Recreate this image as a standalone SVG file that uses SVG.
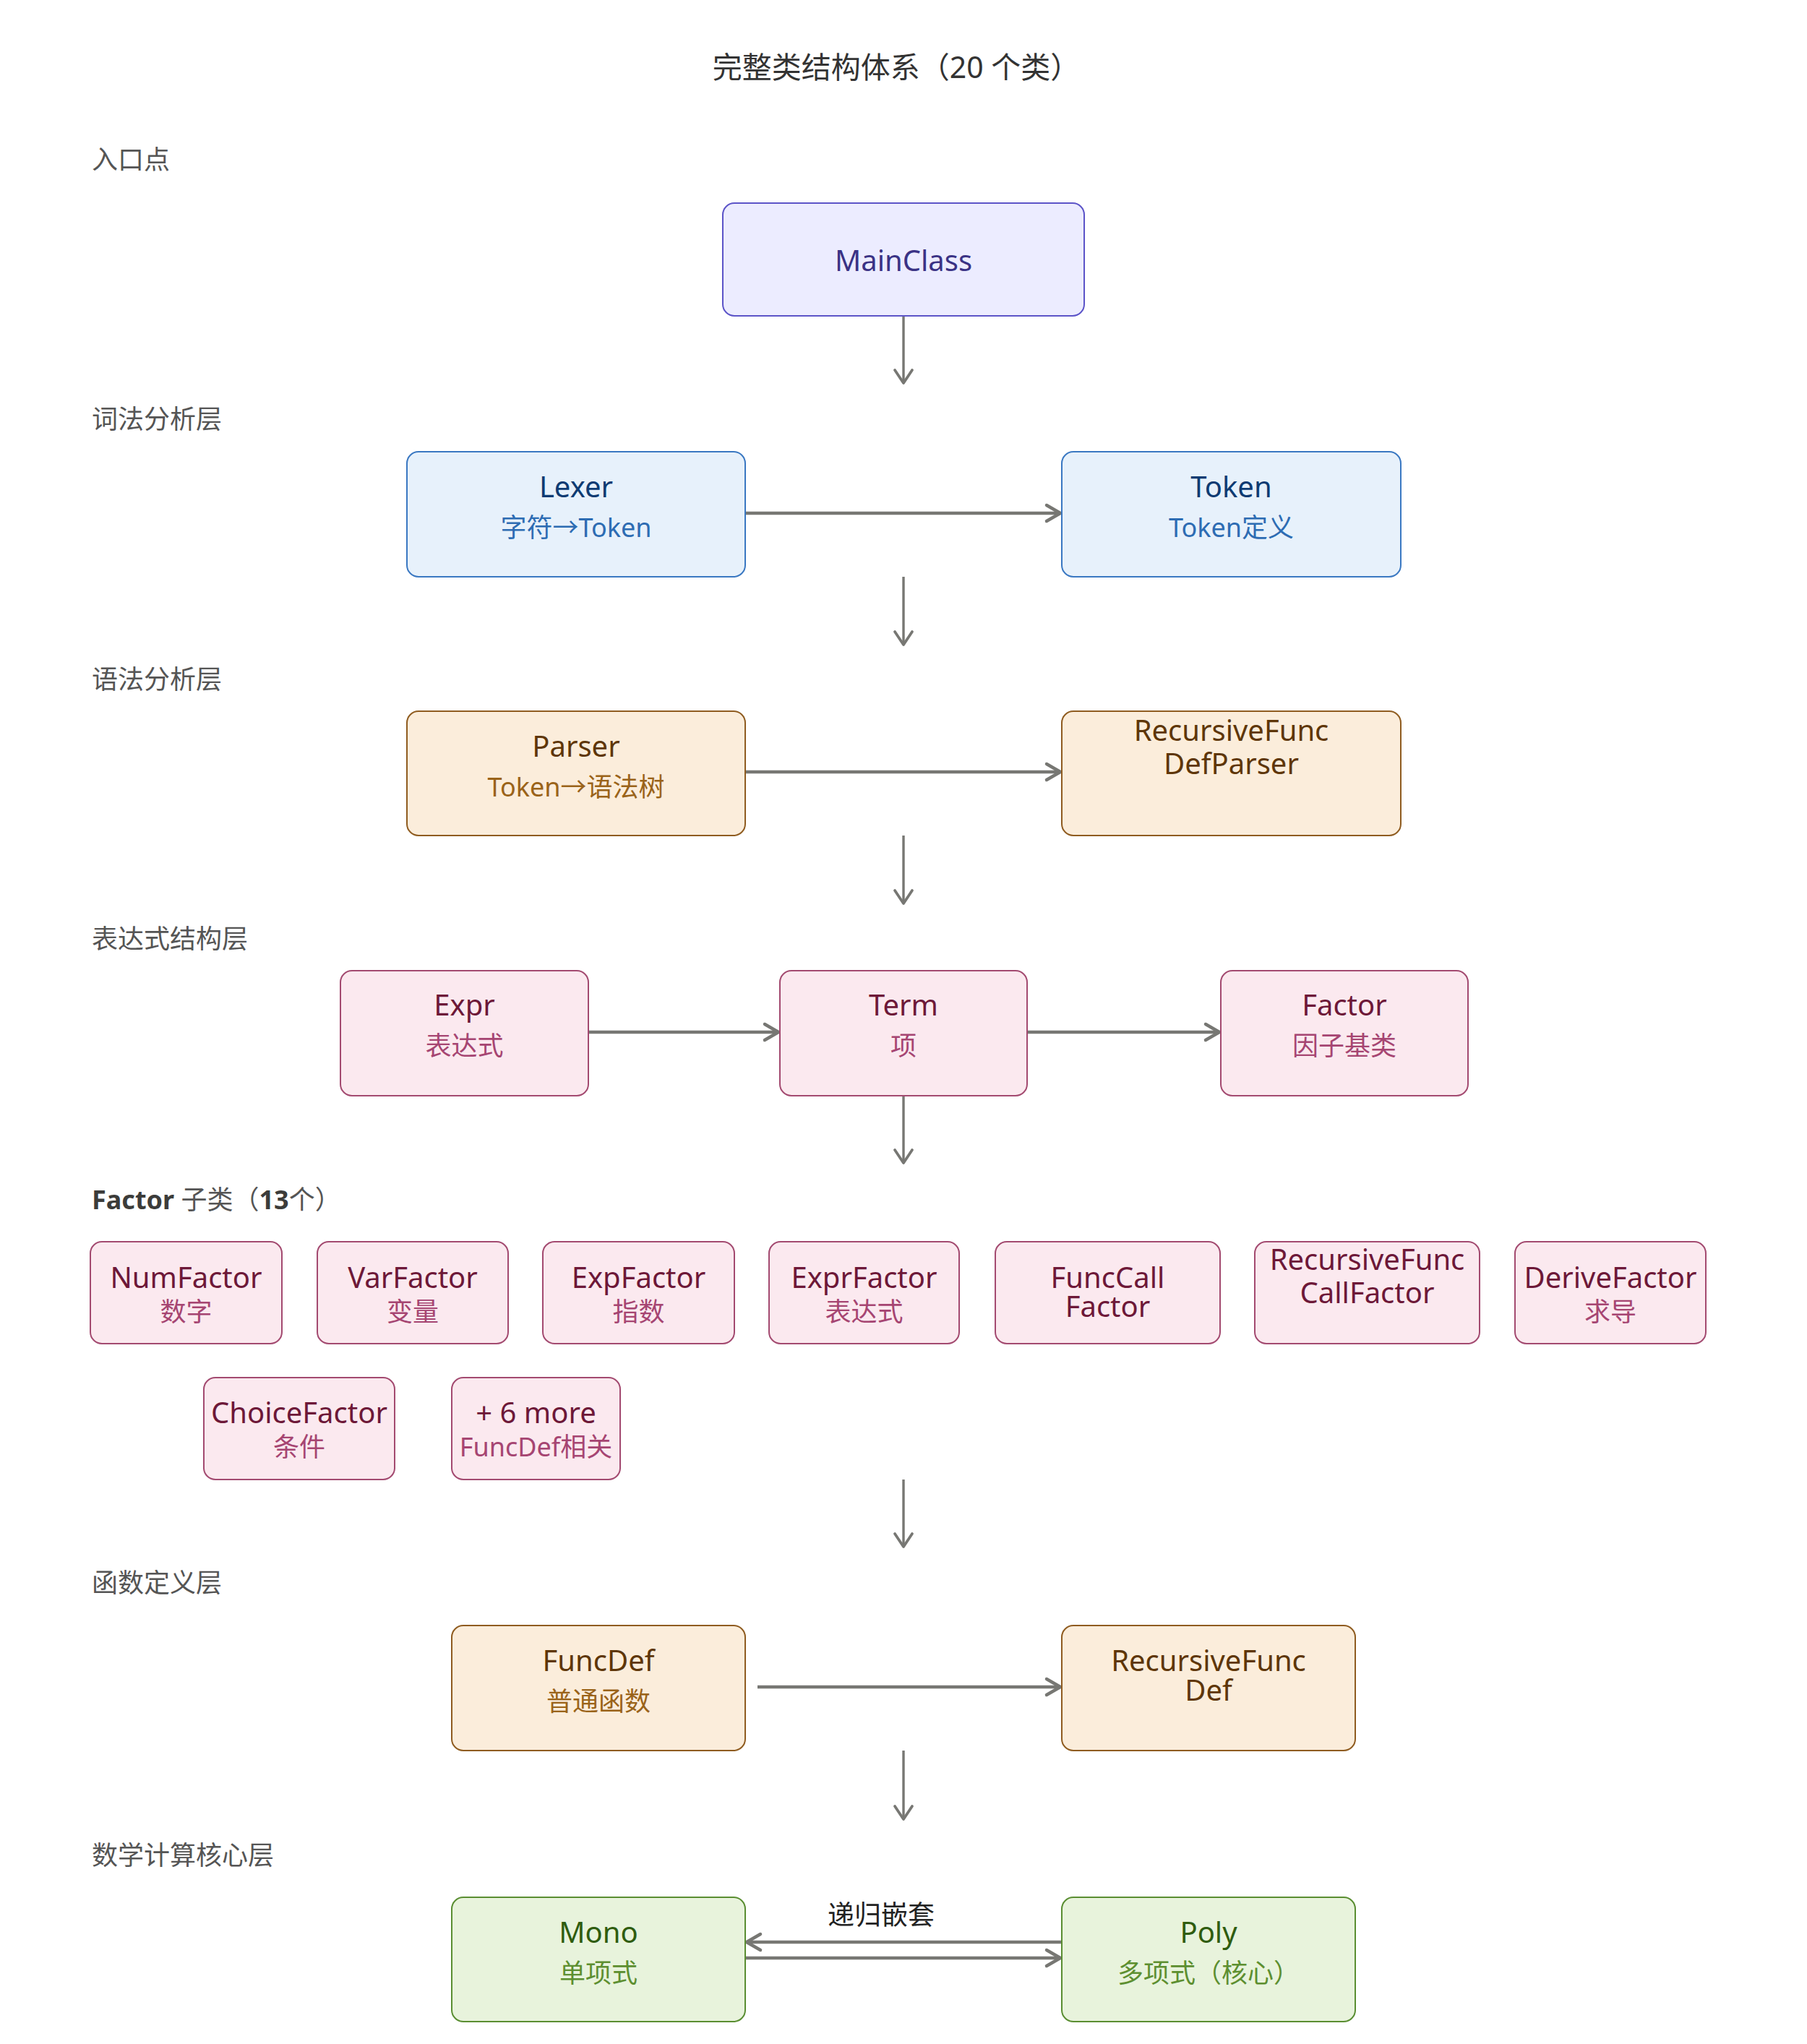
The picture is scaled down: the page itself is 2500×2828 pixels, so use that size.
<svg xmlns="http://www.w3.org/2000/svg" width="2500" height="2828" viewBox="0 0 2500 2828">
<defs>
<style>
text{font-family:"Noto Sans","Noto Sans CJK SC",sans-serif;}
.title{font-size:41px;fill:#333;}
.sec{font-size:36px;fill:#555;}
.t{font-size:40px;text-anchor:middle;}
.s{font-size:36px;text-anchor:middle;}
rect{stroke-width:2;}
.purple rect{fill:#ececff;stroke:#5c54c8;}
.purple .t{fill:#3a3285;}
.blue rect{fill:#e7f1fb;stroke:#3a78c2;}
.blue .t{fill:#0e3b72;}
.blue .s{fill:#2d6cb3;}
.orange rect{fill:#fbeddb;stroke:#8f5c20;}
.orange .t{fill:#5e3608;}
.orange .s{fill:#9a6319;}
.pink rect{fill:#fbe9ef;stroke:#a34a70;}
.pink .t{fill:#6d1838;}
.pink .s{fill:#a64572;}
.green rect{fill:#e8f3dc;stroke:#5a8e32;}
.green .t{fill:#2f5c0f;}
.green .s{fill:#5d8f30;}
.h{stroke:#777773;stroke-width:4.5;fill:none;}
.v{stroke:#777773;stroke-width:3.4;fill:none;}
.elabel{font-size:37px;fill:#222;text-anchor:middle;}
</style>
<marker id="ah" viewBox="-24 -16 28 32" markerWidth="28" markerHeight="32" refX="0" refY="0" orient="auto" markerUnits="userSpaceOnUse">
<path d="M-19,-11 L0,0 L-19,11" fill="none" stroke="#777773" stroke-width="4.5" stroke-linecap="round" stroke-linejoin="round"/>
</marker>
<marker id="av" viewBox="-24 -16 28 32" markerWidth="28" markerHeight="32" refX="0" refY="0" orient="auto" markerUnits="userSpaceOnUse">
<path d="M-18,-12 L0,0 L-18,12" fill="none" stroke="#777773" stroke-width="3.8" stroke-linecap="round" stroke-linejoin="round"/>
</marker>
</defs>
<rect x="0" y="0" width="2500" height="2828" fill="#ffffff" stroke="none"/>

<text class="title" x="1240" y="108" text-anchor="middle">完整类结构体系（20 个类）</text>

<g id="section-labels">
<text class="sec" x="127" y="234">入口点</text>
<text class="sec" x="127" y="593">词法分析层</text>
<text class="sec" x="127" y="953">语法分析层</text>
<text class="sec" x="127" y="1312">表达式结构层</text>
<text class="sec" x="127" y="1673"><tspan font-weight="bold" fill="#3c3c3a">Factor</tspan> 子类（<tspan font-weight="bold" fill="#3c3c3a">13</tspan>个）</text>
<text class="sec" x="127" y="2203">函数定义层</text>
<text class="sec" x="127" y="2580">数学计算核心层</text>
</g>

<g id="connectors">
<line class="v" x1="1250" y1="437" x2="1250" y2="530" marker-end="url(#av)"/>
<line class="v" x1="1250" y1="798" x2="1250" y2="892" marker-end="url(#av)"/>
<line class="v" x1="1250" y1="1156" x2="1250" y2="1250" marker-end="url(#av)"/>
<line class="v" x1="1250" y1="1516" x2="1250" y2="1609" marker-end="url(#av)"/>
<line class="v" x1="1250" y1="2047" x2="1250" y2="2140" marker-end="url(#av)"/>
<line class="v" x1="1250" y1="2422" x2="1250" y2="2517" marker-end="url(#av)"/>
<line class="h" x1="1031" y1="710" x2="1467" y2="710" marker-end="url(#ah)"/>
<line class="h" x1="1031" y1="1068" x2="1467" y2="1068" marker-end="url(#ah)"/>
<line class="h" x1="814" y1="1428" x2="1077" y2="1428" marker-end="url(#ah)"/>
<line class="h" x1="1421" y1="1428" x2="1687" y2="1428" marker-end="url(#ah)"/>
<line class="h" x1="1048" y1="2334" x2="1467" y2="2334" marker-end="url(#ah)"/>
<line class="h" x1="1469" y1="2687" x2="1033" y2="2687" marker-end="url(#ah)"/>
<line class="h" x1="1031" y1="2709" x2="1467" y2="2709" marker-end="url(#ah)"/>
<text class="elabel" x="1219" y="2663">递归嵌套</text>
</g>

<g id="MainClass" class="purple">
<rect x="1000" y="281" width="500" height="156" rx="16"/>
<text class="t" x="1250" y="375">MainClass</text>
</g>

<g id="Lexer" class="blue">
<rect x="563" y="625" width="468" height="173" rx="16"/>
<text class="t" x="797" y="688">Lexer</text>
<text class="s" x="797" y="743">字符→Token</text>
</g>
<g id="Token" class="blue">
<rect x="1469" y="625" width="469" height="173" rx="16"/>
<text class="t" x="1703.5" y="688">Token</text>
<text class="s" x="1703.5" y="743">Token定义</text>
</g>

<g id="Parser" class="orange">
<rect x="563" y="984" width="468" height="172" rx="16"/>
<text class="t" x="797" y="1047">Parser</text>
<text class="s" x="797" y="1102">Token→语法树</text>
</g>
<g id="RecursiveFuncDefParser" class="orange">
<rect x="1469" y="984" width="469" height="172" rx="16"/>
<text class="t" x="1703.5" y="1025">RecursiveFunc<tspan x="1703.5" dy="46">DefParser</tspan></text>
</g>

<g id="Expr" class="pink">
<rect x="471" y="1343" width="343" height="173" rx="16"/>
<text class="t" x="642.5" y="1405">Expr</text>
<text class="s" x="642.5" y="1460">表达式</text>
</g>
<g id="Term" class="pink">
<rect x="1079" y="1343" width="342" height="173" rx="16"/>
<text class="t" x="1250" y="1405">Term</text>
<text class="s" x="1250" y="1460">项</text>
</g>
<g id="Factor" class="pink">
<rect x="1689" y="1343" width="342" height="173" rx="16"/>
<text class="t" x="1860" y="1405">Factor</text>
<text class="s" x="1860" y="1460">因子基类</text>
</g>

<g id="NumFactor" class="pink">
<rect x="125" y="1718" width="265" height="141" rx="16"/>
<text class="t" x="257.5" y="1782">NumFactor</text>
<text class="s" x="257.5" y="1828">数字</text>
</g>
<g id="VarFactor" class="pink">
<rect x="439" y="1718" width="264" height="141" rx="16"/>
<text class="t" x="571" y="1782">VarFactor</text>
<text class="s" x="571" y="1828">变量</text>
</g>
<g id="ExpFactor" class="pink">
<rect x="751" y="1718" width="265" height="141" rx="16"/>
<text class="t" x="883.5" y="1782">ExpFactor</text>
<text class="s" x="883.5" y="1828">指数</text>
</g>
<g id="ExprFactor" class="pink">
<rect x="1064" y="1718" width="263" height="141" rx="16"/>
<text class="t" x="1195.5" y="1782">ExprFactor</text>
<text class="s" x="1195.5" y="1828">表达式</text>
</g>
<g id="FuncCallFactor" class="pink">
<rect x="1377" y="1718" width="311" height="141" rx="16"/>
<text class="t" x="1532.5" y="1782">FuncCall<tspan x="1532.5" dy="40">Factor</tspan></text>
</g>
<g id="RecursiveFuncCallFactor" class="pink">
<rect x="1736" y="1718" width="311" height="141" rx="16"/>
<text class="t" x="1891.5" y="1757">RecursiveFunc<tspan x="1891.5" dy="46">CallFactor</tspan></text>
</g>
<g id="DeriveFactor" class="pink">
<rect x="2096" y="1718" width="264" height="141" rx="16"/>
<text class="t" x="2228" y="1782">DeriveFactor</text>
<text class="s" x="2228" y="1828">求导</text>
</g>
<g id="ChoiceFactor" class="pink">
<rect x="282" y="1906" width="264" height="141" rx="16"/>
<text class="t" x="414" y="1969">ChoiceFactor</text>
<text class="s" x="414" y="2015">条件</text>
</g>
<g id="MoreFactors" class="pink">
<rect x="625" y="1906" width="233" height="141" rx="16"/>
<text class="t" x="741.5" y="1969">+ 6 more</text>
<text class="s" x="741.5" y="2015">FuncDef相关</text>
</g>

<g id="FuncDef" class="orange">
<rect x="625" y="2249" width="406" height="173" rx="16"/>
<text class="t" x="828" y="2312">FuncDef</text>
<text class="s" x="828" y="2367">普通函数</text>
</g>
<g id="RecursiveFuncDef" class="orange">
<rect x="1469" y="2249" width="406" height="173" rx="16"/>
<text class="t" x="1672" y="2312">RecursiveFunc<tspan x="1672" dy="41">Def</tspan></text>
</g>

<g id="Mono" class="green">
<rect x="625" y="2625" width="406" height="172" rx="16"/>
<text class="t" x="828" y="2688">Mono</text>
<text class="s" x="828" y="2743">单项式</text>
</g>
<g id="Poly" class="green">
<rect x="1469" y="2625" width="406" height="172" rx="16"/>
<text class="t" x="1672" y="2688">Poly</text>
<text class="s" x="1672" y="2743">多项式（核心）</text>
</g>
</svg>
